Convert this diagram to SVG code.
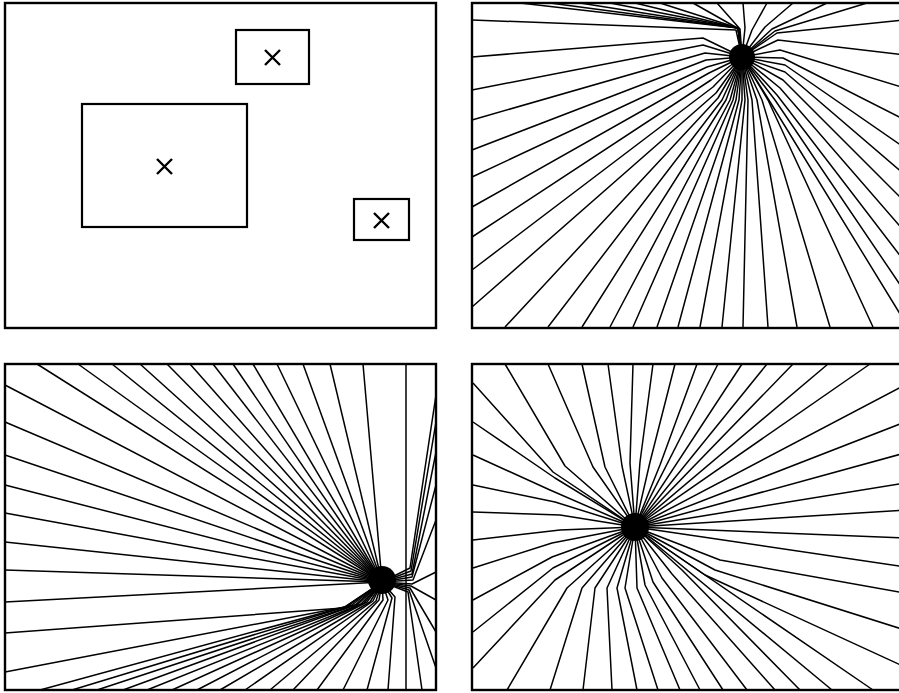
<svg xmlns="http://www.w3.org/2000/svg" width="899" height="693" viewBox="0 0 899 693">
<style>
.frame{fill:none;stroke:#000;stroke-width:2.4}
.box{fill:none;stroke:#000;stroke-width:2.2}
.x{stroke:#000;stroke-width:2.4;fill:none}
.r{fill:none;stroke:#000;stroke-width:1.5;stroke-linejoin:round}
.dot{fill:#000}
</style>
<rect width="899" height="693" fill="#fff"/>
<g id="panel-a">
<rect class="frame" x="5" y="3" width="431" height="325"/>
<rect class="box" x="236" y="30" width="73" height="54"/>
<rect class="box" x="82" y="104" width="165" height="123"/>
<rect class="box" x="354" y="199" width="55" height="41"/>
<path class="x" d="M265 50L280 65M280 50L265 65M157 159L172 174M172 159L157 174M374 213L389 228M389 213L374 228"/>
</g>
<g id="panel-b">
<rect class="frame" x="472" y="3" width="440" height="325"/>
<g id="rays-b">
<polyline class="r" points="742,57 738,28 520,3"/>
<polyline class="r" points="742,57 738,28 550,3"/>
<polyline class="r" points="742,57 738,28 580,3"/>
<polyline class="r" points="742,57 738,28 610,3"/>
<polyline class="r" points="742,57 738,28 635,3"/>
<polyline class="r" points="742,57 738,28 660,3"/>
<polyline class="r" points="742,57 736,30 472,20"/>
<polyline class="r" points="742,57 739,29 693,3"/>
<polyline class="r" points="742,57 740,29 717,3"/>
<polyline class="r" points="742,57 745,28 743,3"/>
<polyline class="r" points="742,57 752,30 767,3"/>
<polyline class="r" points="742,57 765,27 793,3"/>
<polyline class="r" points="742,57 772,29 827,3"/>
<polyline class="r" points="742,57 775,31 867,3"/>
<polyline class="r" points="742,57 777,33 905,20"/>
<polyline class="r" points="742,57 778,40 905,55"/>
<polyline class="r" points="742,57 780,50 905,88"/>
<polyline class="r" points="742,57 783,58 905,120"/>
<polyline class="r" points="742,57 785,65 905,148"/>
<polyline class="r" points="742,57 785,72 905,175"/>
<polyline class="r" points="742,57 783,80 905,202"/>
<polyline class="r" points="742,57 780,88 905,232"/>
<polyline class="r" points="742,57 777,95 905,262"/>
<polyline class="r" points="742,57 775,100 905,292"/>
<polyline class="r" points="742,57 772,105 905,322"/>
<polyline class="r" points="742,57 703,38 472,57"/>
<polyline class="r" points="742,57 703,45 472,90"/>
<polyline class="r" points="742,57 705,53 472,120"/>
<polyline class="r" points="742,57 706,60 472,150"/>
<polyline class="r" points="742,57 707,67 472,177"/>
<polyline class="r" points="742,57 709,73 472,207"/>
<polyline class="r" points="742,57 711,80 472,237"/>
<polyline class="r" points="742,57 713,87 472,270"/>
<polyline class="r" points="742,57 716,93 472,307"/>
<polyline class="r" points="742,57 718,98 505,327"/>
<polyline class="r" points="742,57 722,100 548,327"/>
<polyline class="r" points="742,57 726,100 582,327"/>
<polyline class="r" points="742,57 730,100 610,327"/>
<polyline class="r" points="742,57 733,100 633,327"/>
<polyline class="r" points="742,57 736,100 657,327"/>
<polyline class="r" points="742,57 739,100 678,327"/>
<polyline class="r" points="742,57 742,100 700,327"/>
<polyline class="r" points="742,57 745,100 722,327"/>
<polyline class="r" points="742,57 748,100 743,327"/>
<polyline class="r" points="742,57 752,100 768,327"/>
<polyline class="r" points="742,57 757,100 797,327"/>
<polyline class="r" points="742,57 762,100 830,327"/>
<polyline class="r" points="742,57 768,100 873,327"/>
</g>
<circle class="dot" cx="742" cy="57" r="13"/>
</g>
<g id="panel-c">
<rect class="frame" x="5" y="364" width="431" height="326"/>
<g id="rays-c">
<polyline class="r" points="382,582 37,364"/>
<polyline class="r" points="382,582 78,364"/>
<polyline class="r" points="382,582 112,364"/>
<polyline class="r" points="382,582 140,364"/>
<polyline class="r" points="382,582 167,364"/>
<polyline class="r" points="382,582 190,364"/>
<polyline class="r" points="382,582 213,364"/>
<polyline class="r" points="382,582 233,364"/>
<polyline class="r" points="382,582 253,364"/>
<polyline class="r" points="382,582 277,364"/>
<polyline class="r" points="382,582 303,364"/>
<polyline class="r" points="382,582 330,364"/>
<polyline class="r" points="382,582 363,364"/>
<polyline class="r" points="382,582 5,385"/>
<polyline class="r" points="382,582 5,422"/>
<polyline class="r" points="382,582 5,455"/>
<polyline class="r" points="382,582 5,485"/>
<polyline class="r" points="382,582 5,513"/>
<polyline class="r" points="382,582 5,542"/>
<polyline class="r" points="382,582 5,570"/>
<polyline class="r" points="382,582 5,602"/>
<polyline class="r" points="382,582 343,608 5,633"/>
<polyline class="r" points="382,582 345,607 5,672"/>
<polyline class="r" points="382,582 348,606 40,690"/>
<polyline class="r" points="382,582 352,605 72,690"/>
<polyline class="r" points="382,582 355,605 97,690"/>
<polyline class="r" points="382,582 358,604 123,690"/>
<polyline class="r" points="382,582 361,604 147,690"/>
<polyline class="r" points="382,582 364,603 172,690"/>
<polyline class="r" points="382,582 367,602 197,690"/>
<polyline class="r" points="382,582 370,602 220,690"/>
<polyline class="r" points="382,582 373,601 245,690"/>
<polyline class="r" points="382,582 376,601 270,690"/>
<polyline class="r" points="382,582 379,600 293,690"/>
<polyline class="r" points="382,582 383,600 317,690"/>
<polyline class="r" points="382,582 388,600 343,690"/>
<polyline class="r" points="382,582 392,598 367,690"/>
<polyline class="r" points="382,582 395,597 388,690"/>
<polyline class="r" points="406,364 406,690"/>
<polyline class="r" points="382,582 410,568 436,395"/>
<polyline class="r" points="382,582 411,571 436,422"/>
<polyline class="r" points="382,582 412,574 436,452"/>
<polyline class="r" points="382,582 412,577 436,485"/>
<polyline class="r" points="382,582 413,580 436,520"/>
<polyline class="r" points="382,582 412,584 436,572"/>
<polyline class="r" points="382,582 411,586 436,600"/>
<polyline class="r" points="382,582 410,588 436,632"/>
<polyline class="r" points="382,582 409,590 436,668"/>
<polyline class="r" points="382,582 408,592 422,690"/>
</g>
<circle class="dot" cx="382" cy="580" r="14"/>
</g>
<g id="panel-d">
<rect class="frame" x="472" y="364" width="440" height="326"/>
<g id="rays-d">
<polyline class="r" points="635,527 553,472 473,383"/>
<polyline class="r" points="635,527 565,466 505,364"/>
<polyline class="r" points="635,527 593,467 548,364"/>
<polyline class="r" points="635,527 605,467 582,364"/>
<polyline class="r" points="635,527 622,466 608,364"/>
<polyline class="r" points="635,527 630,463 633,364"/>
<polyline class="r" points="635,527 640,462 653,364"/>
<polyline class="r" points="635,527 650,462 675,364"/>
<polyline class="r" points="635,527 660,465 697,364"/>
<polyline class="r" points="635,527 718,364"/>
<polyline class="r" points="635,527 742,364"/>
<polyline class="r" points="635,527 767,364"/>
<polyline class="r" points="635,527 793,364"/>
<polyline class="r" points="635,527 828,364"/>
<polyline class="r" points="635,527 870,364"/>
<polyline class="r" points="635,527 555,478 473,422"/>
<polyline class="r" points="635,527 550,490 473,455"/>
<polyline class="r" points="635,527 555,502 473,485"/>
<polyline class="r" points="635,527 560,515 473,512"/>
<polyline class="r" points="635,527 560,530 473,540"/>
<polyline class="r" points="635,527 552,543 473,568"/>
<polyline class="r" points="635,527 552,557 473,600"/>
<polyline class="r" points="635,527 553,568 473,632"/>
<polyline class="r" points="635,527 555,580 473,668"/>
<polyline class="r" points="635,527 567,588 507,690"/>
<polyline class="r" points="635,527 582,588 550,690"/>
<polyline class="r" points="635,527 595,588 583,690"/>
<polyline class="r" points="635,527 607,588 612,690"/>
<polyline class="r" points="635,527 617,588 637,690"/>
<polyline class="r" points="635,527 625,588 658,690"/>
<polyline class="r" points="635,527 637,588 680,690"/>
<polyline class="r" points="635,527 645,585 700,690"/>
<polyline class="r" points="635,527 653,582 723,690"/>
<polyline class="r" points="635,527 662,578 747,690"/>
<polyline class="r" points="635,527 672,574 775,690"/>
<polyline class="r" points="635,527 682,570 800,690"/>
<polyline class="r" points="635,527 832,690"/>
<polyline class="r" points="635,527 873,690"/>
<polyline class="r" points="635,527 905,385"/>
<polyline class="r" points="635,527 905,422"/>
<polyline class="r" points="635,527 905,453"/>
<polyline class="r" points="635,527 905,483"/>
<polyline class="r" points="635,527 905,510"/>
<polyline class="r" points="635,527 905,538"/>
<polyline class="r" points="635,527 905,567"/>
<polyline class="r" points="635,527 720,560 905,593"/>
<polyline class="r" points="635,527 715,570 905,630"/>
<polyline class="r" points="635,527 705,575 905,667"/>
</g>
<circle class="dot" cx="635" cy="527" r="14"/>
</g>
</svg>
